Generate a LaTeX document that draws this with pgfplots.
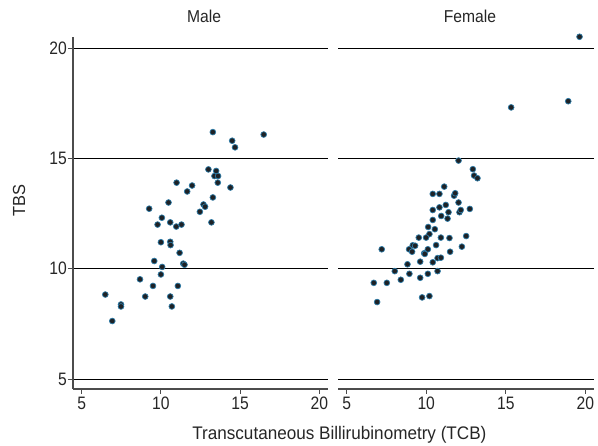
\documentclass[border=0pt]{standalone}
\usepackage{fontspec}
\setmainfont{Liberation Sans}
\newfontfamily\tickfont[FakeStretch=0.87]{Liberation Sans}
\newfontfamily\titlefont[FakeStretch=0.91]{Liberation Sans}
\newfontfamily\labelfont[FakeStretch=0.94]{Liberation Sans}
\usepackage{pgfplots}
\usepackage{pgfplotstable}
\pgfplotsset{compat=1.18}
\definecolor{dotfill}{HTML}{1E2226}
\definecolor{dotedge}{HTML}{2E7BA6}
\definecolor{txt}{HTML}{262626}

\pgfplotstableread{
x y
13.28 16.19
16.49 16.08
14.50 15.80
14.68 15.50
13.00 14.50
13.49 14.43
13.38 14.20
13.61 14.20
13.59 13.90
10.99 13.90
11.97 13.77
11.66 13.50
14.39 13.68
13.28 13.23
10.48 13.00
12.69 12.91
12.79 12.81
12.46 12.58
9.26 12.72
10.06 12.31
9.79 12.00
10.59 12.10
10.97 11.91
11.30 12.00
13.19 12.10
10.00 11.20
10.59 11.22
10.61 11.07
11.18 10.72
9.58 10.35
10.08 10.08
11.41 10.23
11.49 10.18
10.00 9.74
8.68 9.52
9.50 9.22
11.07 9.22
6.49 8.83
9.01 8.74
10.59 8.74
7.48 8.38
7.48 8.29
10.69 8.29
6.93 7.63
}\maledata

\pgfplotstableread{
x y
19.64 20.51
18.93 17.59
15.34 17.31
12.03 14.90
12.93 14.51
13.01 14.22
13.22 14.10
11.13 13.72
10.41 13.39
10.83 13.39
11.75 13.31
11.82 13.42
12.03 13.00
11.23 12.89
10.83 12.78
10.41 12.66
11.40 12.56
12.09 12.56
12.17 12.66
12.74 12.71
10.94 12.39
11.34 12.27
10.41 12.21
10.12 11.89
10.54 11.79
10.20 11.57
9.99 11.41
9.53 11.41
10.92 11.41
11.46 11.39
12.51 11.48
7.20 10.88
9.15 11.06
9.30 11.04
8.92 10.88
9.11 10.77
10.10 10.88
10.62 11.07
9.87 10.70
9.91 10.67
11.50 10.77
12.24 11.00
10.71 10.48
10.92 10.50
9.62 10.32
10.41 10.29
8.82 10.20
8.02 9.89
8.94 9.77
10.10 9.77
10.71 9.89
8.40 9.50
9.62 9.59
6.70 9.36
7.52 9.36
10.20 8.76
9.74 8.70
6.91 8.49
}\femaledata

\pgfplotsset{
  panel/.style={
    scale only axis, height=352pt,
    xmin=4.45, xmax=20.55, ymin=4.55, ymax=20.5,
    xtick={5,10,15,20}, ytick={5,10,15,20},
    axis x line*=bottom, axis y line*=left,
    ymajorgrids, grid style={black, line width=0.9pt},
    tick align=outside, major tick length=5pt,
    tick style={black!70, line width=0.9pt},
    axis line style={black!70, line width=1.1pt, -},
    tick label style={font=\tickfont\fontsize{18}{20}\selectfont, text=txt, inner sep=1pt},
    xticklabel style={yshift=-2pt},
    /pgf/number format/assume math mode=true,
    clip=false,
  },
  dots/.style={only marks, mark=*, mark size=2.9pt,
    mark options={fill=dotfill, draw=dotedge, line width=0.7pt}},
}

\begin{document}
\begin{tikzpicture}[x=1pt,y=1pt]
\path[use as bounding box] (0,0) rectangle (598,446);
\begin{axis}[panel, width=255pt, at={(73pt,57pt)}, anchor=south west]
\addplot[dots] table[x=x,y=y] {\maledata};
\end{axis}
\begin{axis}[panel, width=256pt, at={(338pt,57pt)}, anchor=south west,
  y axis line style={draw=none}, ytick style={draw=none}, yticklabels={}]
\addplot[dots] table[x=x,y=y] {\femaledata};
\end{axis}
\node[anchor=base, text=txt, font=\titlefont\fontsize{17.2}{19}\selectfont] at (204,423) {Male};
\node[anchor=base, text=txt, font=\titlefont\fontsize{17.2}{19}\selectfont] at (470,423) {Female};
\node[anchor=base, text=txt, font=\labelfont\fontsize{18.2}{20}\selectfont] at (339.4,6) {Transcutaneous Billirubinometry (TCB)};
\node[rotate=90, text=txt, font=\labelfont\fontsize{17.5}{19}\selectfont] at (19,245.5) {TBS};
\end{tikzpicture}
\end{document}
